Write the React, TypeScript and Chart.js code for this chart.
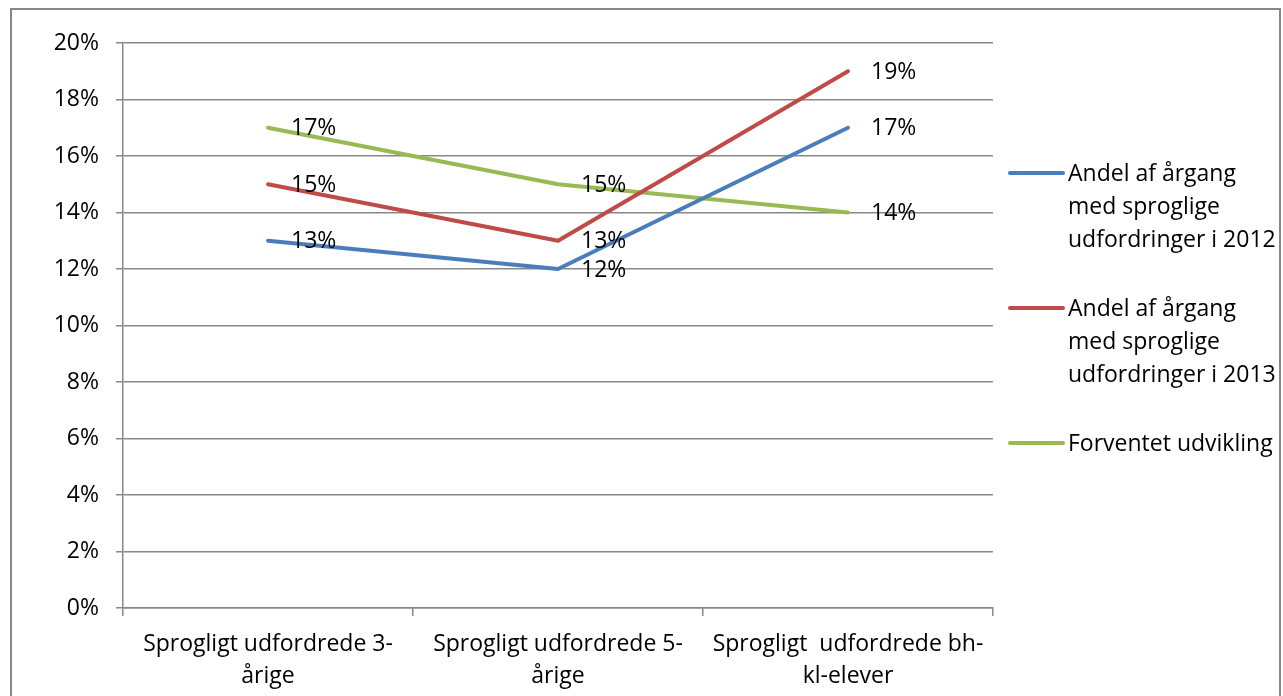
import React, { useEffect, useRef } from "react";
import { Chart, registerables } from "chart.js";

Chart.register(...registerables);

const categories: string[][] = [
  ["Sprogligt udfordrede 3-", "årige"],
  ["Sprogligt udfordrede 5-", "årige"],
  ["Sprogligt  udfordrede bh-", "kl-elever"],
];
const andel2012: number[] = [13, 12, 17];
const andel2013: number[] = [15, 13, 19];
const forventet: number[] = [17, 15, 14];
const legendLines: string[][] = [
  ["Andel af årgang", "med sproglige", "udfordringer i 2012"],
  ["Andel af årgang", "med sproglige", "udfordringer i 2013"],
  ["Forventet udvikling"],
];
const colors = ["#4A7EBB", "#BE4B48", "#98B954"];

const FONT = "'Open Sans', Lato, sans-serif";
const FS = 23;
const GRID = "#888888";

const labelsPlugin = {
  id: "pointLabels",
  afterDatasetsDraw(chart: any) {
    const ctx = chart.ctx;
    ctx.save();
    ctx.font = `${FS}px ${FONT}`;
    ctx.fillStyle = "#000";
    ctx.textAlign = "left";
    ctx.textBaseline = "middle";
    chart.data.datasets.forEach((ds: any, i: number) => {
      const meta = chart.getDatasetMeta(i);
      meta.data.forEach((pt: any, j: number) => {
        ctx.fillText(`${ds.data[j]}%`, pt.x + 23, pt.y + 1);
      });
    });
    ctx.restore();
  },
};

const legendPlugin = {
  id: "customLegend",
  afterDraw(chart: any) {
    const ctx = chart.ctx;
    const area = chart.chartArea;
    const x0 = area.right + 15;
    const starts = [174, 309, 444];
    ctx.save();
    ctx.font = `${FS}px ${FONT}`;
    ctx.textBaseline = "middle";
    ctx.textAlign = "left";
    legendLines.forEach((lines, i) => {
      const y0 = starts[i];
      ctx.strokeStyle = colors[i];
      ctx.lineWidth = 4;
      ctx.lineCap = "round";
      ctx.beginPath();
      ctx.moveTo(x0 + 2, y0 - 1);
      ctx.lineTo(x0 + 55, y0 - 1);
      ctx.stroke();
      ctx.fillStyle = "#000";
      lines.forEach((t, k) => ctx.fillText(t, x0 + 60, y0 + k * 33));
    });
    ctx.restore();
  },
};

export default function App() {
  const ref = useRef<HTMLCanvasElement>(null);
  useEffect(() => {
    if (!ref.current) return;
    const chart = new Chart(ref.current, {
      type: "line",
      data: {
        labels: categories,
        datasets: [
          { label: legendLines[0].join(" "), data: andel2012, borderColor: colors[0], backgroundColor: colors[0] },
          { label: legendLines[1].join(" "), data: andel2013, borderColor: colors[1], backgroundColor: colors[1] },
          { label: legendLines[2].join(" "), data: forventet, borderColor: colors[2], backgroundColor: colors[2] },
        ].map((d) => ({
          ...d,
          borderWidth: 4,
          pointRadius: 0,
          tension: 0,
          borderCapStyle: "round" as const,
          borderJoinStyle: "round" as const,
        })),
      },
      options: {
        animation: false,
        responsive: false,
        layout: { padding: { left: 0, top: 43, right: 290, bottom: 0 } },
        plugins: { legend: { display: false }, tooltip: { enabled: false } },
        scales: {
          x: {
            offset: true,
            grid: {
              offset: true,
              drawOnChartArea: false,
              drawTicks: true,
              tickLength: 8,
              color: GRID,
              lineWidth: 1.5,
            },
            border: { color: GRID, width: 1.5 },
            ticks: {
              color: "#000",
              font: { family: FONT, size: FS, lineHeight: 1.39 },
              padding: 12,
              maxRotation: 0,
              autoSkip: false,
            },
            afterFit(scale: any) {
              scale.height = 88;
            },
          },
          y: {
            min: 0,
            max: 20,
            ticks: {
              stepSize: 2,
              color: "#000",
              font: { family: FONT, size: FS },
              padding: 17,
              callback: (v: any) => `${v}%`,
            },
            grid: { color: GRID, lineWidth: 1.5, tickLength: 7 },
            border: { color: GRID, width: 1.5 },
            afterFit(scale: any) {
              scale.width = 123;
            },
          },
        },
      },
      plugins: [labelsPlugin, legendPlugin],
    });
    return () => chart.destroy();
  }, []);
  return (
    <div
      style={{
        position: "fixed",
        left: 0,
        top: 0,
        width: 1283,
        height: 696,
        overflow: "hidden",
        background: "#fff",
      }}
    >
      <div
        style={{
          position: "absolute",
          left: 10,
          top: 8,
          width: 1271,
          height: 720,
          border: "2px solid #878787",
          boxSizing: "border-box",
        }}
      />
      <canvas
        ref={ref}
        width={1283}
        height={696}
        style={{ position: "absolute", left: 0, top: 0 }}
      />
    </div>
  );
}
